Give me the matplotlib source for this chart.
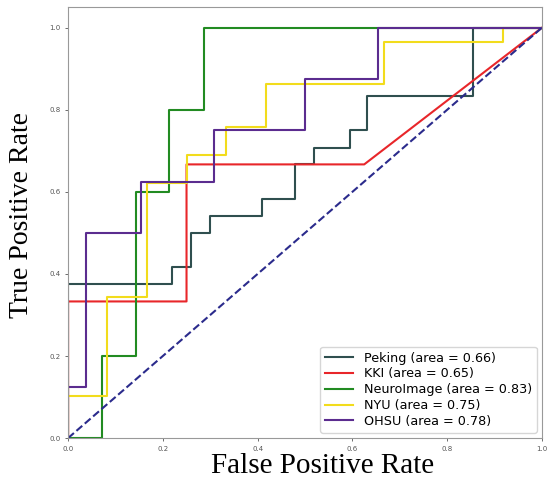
import matplotlib
matplotlib.use('Agg')
import matplotlib.pyplot as plt

# ROC curves
peking_fpr = [0, 0, 0.22, 0.22, 0.26, 0.26, 0.30, 0.30, 0.41, 0.41, 0.48, 0.48,
              0.52, 0.52, 0.595, 0.595, 0.63, 0.63, 0.855, 0.855, 1.0]
peking_tpr = [0, 0.375, 0.375, 0.417, 0.417, 0.5, 0.5, 0.542, 0.542, 0.583, 0.583, 0.667,
              0.667, 0.708, 0.708, 0.75, 0.75, 0.833, 0.833, 1.0, 1.0]

kki_fpr = [0, 0, 0.25, 0.25, 0.625, 1.0]
kki_tpr = [0, 0.333, 0.333, 0.667, 0.667, 1.0]

neuro_fpr = [0, 0.071, 0.071, 0.143, 0.143, 0.214, 0.214, 0.286, 0.286, 1.0]
neuro_tpr = [0, 0, 0.2, 0.2, 0.6, 0.6, 0.8, 0.8, 1.0, 1.0]

nyu_fpr = [0, 0, 0.083, 0.083, 0.167, 0.167, 0.25, 0.25, 0.333, 0.333, 0.417, 0.417,
           0.667, 0.667, 0.917, 0.917, 1.0]
nyu_tpr = [0, 0.103, 0.103, 0.345, 0.345, 0.621, 0.621, 0.690, 0.690, 0.759, 0.759, 0.862,
           0.862, 0.966, 0.966, 1.0, 1.0]

ohsu_fpr = [0, 0, 0.038, 0.038, 0.154, 0.154, 0.308, 0.308, 0.5, 0.5, 0.654, 0.654, 1.0]
ohsu_tpr = [0, 0.125, 0.125, 0.5, 0.5, 0.625, 0.625, 0.75, 0.75, 0.875, 0.875, 1.0, 1.0]

names = ['Peking', 'KKI', 'NeuroImage', 'NYU', 'OHSU']
aucs = [0.66, 0.65, 0.83, 0.75, 0.78]
colors = ['#2F4F4F', '#E8262A', '#228B22', '#F2DC1C', '#5B2C8F']
curves = [(peking_fpr, peking_tpr), (kki_fpr, kki_tpr), (neuro_fpr, neuro_tpr),
          (nyu_fpr, nyu_tpr), (ohsu_fpr, ohsu_tpr)]

fig = plt.figure(figsize=(5.49, 4.83), dpi=100)
ax = fig.add_axes([0.124, 0.093, 0.863, 0.892])

for (fx, ty), name, auc, c in zip(curves, names, aucs, colors):
    ax.plot(fx, ty, color=c, lw=1.5, label='%s (area = %.2f)' % (name, auc))

ax.plot([0, 1], [0, 1], color='#2B2B8C', lw=1.5, linestyle='--')

ax.set_xlim(0.0, 1.0)
ax.set_ylim(0.0, 1.05)
ax.tick_params(labelsize=5, colors='#555555', length=2, width=0.6)
for s in ax.spines.values():
    s.set_color('#999999')
    s.set_linewidth(0.8)

ax.set_xlabel('False Positive Rate', family='Liberation Serif', fontsize=21)
ax.set_ylabel('True Positive Rate', family='Liberation Serif', fontsize=20)
ax.xaxis.set_label_coords(0.538, -0.035, transform=ax.transAxes)
ax.yaxis.set_label_coords(-0.072, 0.517, transform=ax.transAxes)
ax.xaxis.label.set_va('top')
ax.legend(loc='lower right', fontsize=9.2, handlelength=2.2, labelspacing=0.22,
          borderaxespad=0.4)

plt.savefig('out.png', dpi=100)
